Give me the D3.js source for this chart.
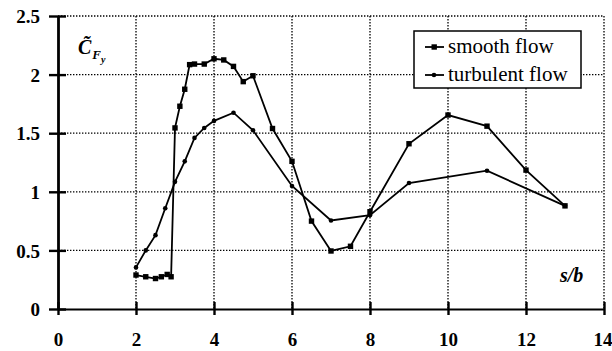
<!DOCTYPE html>
<html><head><meta charset="utf-8">
<script src="https://cdn.jsdelivr.net/npm/d3@7"></script>
<style>
body{margin:0;background:#fff;}
svg{display:block;}
svg text{font-family:"Liberation Serif","DejaVu Serif","Noto Serif",serif !important;fill:#000;}
</style></head>
<body><svg id="c" width="612" height="351"></svg>
<script>
const xTicks = [0,2,4,6,8,10,12,14];
const yTicks = [0,0.5,1,1.5,2,2.5];
const yTickLabels = ["0","0.5","1","1.5","2","2.5"];
const smoothX = [2.0,2.25,2.5,2.65,2.8,2.9,3.0,3.125,3.25,3.375,3.5,3.75,4.0,4.25,4.5,4.75,5.0,5.5,6.0,6.5,7.0,7.5,8.0,9.0,10.0,11.0,12.0,13.0];
const smoothY = [0.29,0.275,0.26,0.275,0.295,0.275,1.545,1.73,1.875,2.085,2.09,2.09,2.135,2.125,2.07,1.94,1.99,1.54,1.26,0.75,0.495,0.535,0.83,1.41,1.655,1.56,1.185,0.88];
const turbX = [2.0,2.25,2.5,2.75,3.0,3.25,3.5,3.75,4.0,4.5,5.0,6.0,7.0,8.0,9.0,11.0,13.0];
const turbY = [0.355,0.50,0.63,0.86,1.085,1.26,1.46,1.545,1.605,1.675,1.525,1.05,0.755,0.80,1.075,1.18,0.88];
const seriesNames = ["smooth flow","turbulent flow"];

const svg = d3.select("#c");
const x = d3.scaleLinear().domain([0,14]).range([58,604]);
const y = d3.scaleLinear().domain([0,2.5]).range([309,16]);

// grid
const grid = svg.append("g").attr("stroke","#000").attr("stroke-width",1.3).attr("stroke-dasharray","1.4,1.6");
grid.selectAll("line.v").data(xTicks.filter(d=>d>0)).join("line")
  .attr("x1",d=>x(d)).attr("x2",d=>x(d)).attr("y1",y(2.5)).attr("y2",y(0));
grid.selectAll("line.h").data(yTicks.filter(d=>d>0)).join("line")
  .attr("x1",x(0)).attr("x2",x(14)).attr("y1",d=>y(d)).attr("y2",d=>y(d));

// axes
const gx = svg.append("g").attr("transform",`translate(0,${y(0)})`)
  .call(d3.axisBottom(x).tickValues(xTicks).tickSize(0).tickFormat(d3.format("d")));
gx.attr("font-family",null);
gx.select(".domain").attr("stroke","#000").attr("stroke-width",2.2);
gx.selectAll(".tick text").attr("dy",0).attr("y",37).attr("font-size",19).attr("font-weight","bold")
  .attr("text-anchor",d=>d===14?"end":"middle").attr("x",d=>d===14?8:0);
gx.selectAll(".tick").append("line").attr("stroke","#000").attr("stroke-width",2.4).attr("y1",-7).attr("y2",6);

const gy = svg.append("g").attr("transform",`translate(${x(0)},0)`)
  .call(d3.axisLeft(y).tickValues(yTicks).tickSize(0).tickFormat((d,i)=>yTickLabels[i]));
gy.attr("font-family",null);
gy.select(".domain").attr("stroke","#000").attr("stroke-width",2.8);
gy.selectAll(".tick text").attr("x",-18).attr("dy","0.35em").attr("font-size",19).attr("font-weight","bold");
gy.selectAll(".tick").append("line").attr("stroke","#000").attr("stroke-width",2.4).attr("x1",-9).attr("x2",8);

// lines
const line = d3.line().x(d=>x(d[0])).y(d=>y(d[1]));
const smooth = smoothX.map((v,i)=>[v,smoothY[i]]);
const turb = turbX.map((v,i)=>[v,turbY[i]]);
svg.append("path").datum(turb).attr("d",line).attr("fill","none").attr("stroke","#000").attr("stroke-width",1.8);
svg.append("path").datum(smooth).attr("d",line).attr("fill","none").attr("stroke","#000").attr("stroke-width",1.8);
svg.append("g").selectAll("circle").data(turb).join("circle")
  .attr("cx",d=>x(d[0])).attr("cy",d=>y(d[1])).attr("r",2.3).attr("fill","#000");
svg.append("g").selectAll("rect").data(smooth).join("rect")
  .attr("x",d=>x(d[0])-2.7).attr("y",d=>y(d[1])-2.7).attr("width",5.4).attr("height",5.4).attr("fill","#000");

// legend
const lg = svg.append("g");
lg.append("rect").attr("x",414).attr("y",31).attr("width",167).attr("height",57)
  .attr("fill","#fff").attr("stroke","#000").attr("stroke-width",1.5);
seriesNames.forEach((name,i)=>{
  const yy = 47 + i*28;
  lg.append("line").attr("x1",425).attr("x2",444).attr("y1",yy).attr("y2",yy).attr("stroke","#000").attr("stroke-width",1.8);
  if(i===0) lg.append("rect").attr("x",431.5).attr("y",yy-2.7).attr("width",5.4).attr("height",5.4).attr("fill","#000");
  else lg.append("circle").attr("cx",434).attr("cy",yy).attr("r",2.3).attr("fill","#000");
  lg.append("text").attr("x",448).attr("y",yy+6).attr("font-size",21).text(name);
});

// axis titles
const yl = svg.append("text").attr("x",78).attr("y",54).attr("font-style","italic").attr("font-weight","bold").attr("font-size",20);
yl.append("tspan").text("C\u0303");
yl.append("tspan").attr("font-size",13).attr("dy",5).attr("dx",1).text("F");
yl.append("tspan").attr("font-size",10).attr("dy",4).text("y");
svg.append("text").attr("x",560).attr("y",282).attr("font-style","italic").attr("font-weight","bold").attr("font-size",20).text("s/b");
</script></body></html>
